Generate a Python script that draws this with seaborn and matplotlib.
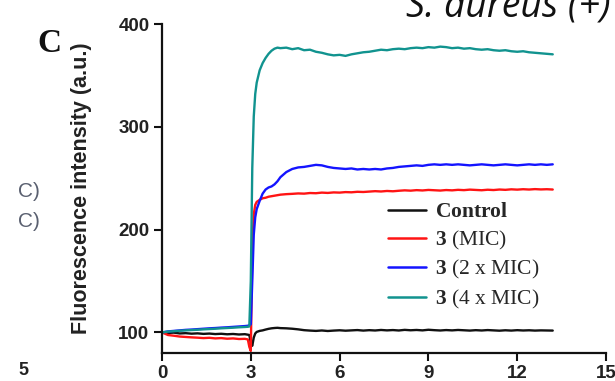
import matplotlib
matplotlib.use("Agg")
import matplotlib.pyplot as plt
import seaborn as sns
import pandas as pd

# Time axis (min)
time_min = [0.0, 0.2, 0.4, 0.6, 0.8, 1.0, 1.2, 1.4, 1.6, 1.8, 2.0, 2.2, 2.4, 2.6, 2.8,
            2.9, 2.95, 3.0, 3.05, 3.1, 3.15, 3.2,
            3.3, 3.4, 3.5, 3.6, 3.7, 3.8, 3.9, 4.0,
            4.2, 4.4, 4.6, 4.8, 5.0, 5.2, 5.4, 5.6, 5.8, 6.0, 6.2, 6.4, 6.6, 6.8,
            7.0, 7.2, 7.4, 7.6, 7.8, 8.0, 8.2, 8.4, 8.6, 8.8, 9.0, 9.2, 9.4, 9.6,
            9.8, 10.0, 10.2, 10.4, 10.6, 10.8, 11.0, 11.2, 11.4, 11.6, 11.8, 12.0,
            12.2, 12.4, 12.6, 12.8, 13.0, 13.2]

control = [100, 99.5, 99.8, 99, 99.3, 98.8, 99.1, 98.6, 98.9, 98.4, 98.7, 98.2, 98.5, 98.0, 98.3,
           97.8, 97.5, 90, 87, 95, 99, 100.5,
           101.5, 102, 102.8, 103.5, 104, 104.3, 104.5, 104.2,
           104, 103.6, 103, 102.2, 101.8, 101.5, 101.9, 101.4, 101.8, 102.1,
           101.7, 102.0, 102.3, 101.8, 102.2, 101.9, 102.4, 102.0, 102.3, 101.9,
           102.5, 102.1, 102.4, 102.0, 102.6, 102.2, 101.9, 102.3, 102.0, 102.4,
           102.1, 101.8, 102.2, 101.9, 102.3, 102.0, 101.7, 102.1, 101.8, 102.2,
           101.9, 102.1, 101.8, 102.0, 101.9, 101.8]

mic_1x = [100, 97.5, 96.8, 96, 95.6, 95.2, 94.9, 94.5, 94.8, 94.2, 94.5, 93.9, 94.2, 93.6, 93.8,
          93.2, 86, 82, 180, 215, 224, 227,
          229, 230.5, 231, 232, 232.5, 233, 233.5, 234,
          234.5, 234.8, 235.2, 235.0, 235.6, 235.4, 236.0, 235.7, 236.2, 236.0,
          236.5, 236.3, 236.8, 236.6, 237.0, 237.4, 237.1, 237.6, 237.3, 237.8,
          238.2, 237.9, 238.4, 238.1, 238.6, 238.3, 238.0, 238.5, 238.2, 238.7,
          238.4, 238.9, 238.6, 238.3, 238.8, 238.5, 239.0, 238.7, 239.2, 238.9,
          239.3, 239.0, 239.4, 239.1, 239.3, 239.0]

mic_2x = [100, 101, 101.5, 102, 102.5, 102.8, 103.2, 103.6, 104, 104.3, 104.7, 105, 105.4, 105.8, 106.2,
          106.5, 107, 108, 150, 195, 212, 220,
          228, 235, 239, 241, 242, 244, 247, 251,
          256, 259, 260.5, 261, 262, 263, 262.5, 261, 260, 259.5,
          259, 259.5, 258.5, 259, 258.5, 259, 258.5, 259.5, 260, 261,
          261.5, 262, 262.5, 262, 263, 263.5, 263, 263.5, 263, 263.5,
          263, 262.5, 263, 263.5, 263, 262.5, 263, 263.5, 263, 262.5,
          263, 263.5, 263, 263.5, 263, 263.5]

mic_4x = [100, 100.8, 101.2, 101.6, 102, 102.3, 102.6, 103, 103.3, 103.6, 104, 104.3, 104.6, 105, 105.3,
          105.5, 105.8, 150, 260, 310, 332, 343,
          355, 362, 367, 371, 374, 376, 377, 376.5,
          377, 375.5, 376.5, 374.5, 375, 373, 372, 370.5, 369.5, 370,
          369, 370.5, 371.5, 372.5, 373, 374, 375, 374.5, 375.5, 376,
          375.5, 376.5, 377, 376.5, 377.5, 377, 378, 377.5, 376.5, 377,
          376, 376.5, 375.5, 375, 375.5, 374.5, 374, 374.5, 373.5, 373,
          373.5, 372.5, 372, 371.5, 371, 370.5]

series_labels = [r"$\mathbf{Control}$", r"$\mathbf{3}$ (MIC)",
                 r"$\mathbf{3}$ (2 x MIC)", r"$\mathbf{3}$ (4 x MIC)"]
series_colors = ["#111111", "#ff1414", "#1414ff", "#11938f"]

x_ticks = [0, 3, 6, 9, 12, 15]
y_ticks = [100, 200, 300, 400]
y_tick_labels = ["100", "200", "300", "400"]

sns.set_style("ticks")
plt.rcParams["font.family"] = ["Liberation Sans", "DejaVu Sans"]
plt.rcParams["mathtext.fontset"] = "custom"
plt.rcParams["mathtext.rm"] = "Liberation Serif"
plt.rcParams["mathtext.bf"] = "Liberation Serif:bold"

frames = []
for lab, vals in zip(series_labels, [control, mic_1x, mic_2x, mic_4x]):
    frames.append(pd.DataFrame({"time": time_min, "intensity": vals, "series": lab}))
df = pd.concat(frames, ignore_index=True)

fig = plt.figure(figsize=(6.15, 3.81), dpi=100)
ax = fig.add_axes([0.2634, 0.0735, 0.7220, 0.8635])

sns.lineplot(data=df, x="time", y="intensity", hue="series",
             hue_order=series_labels, palette=dict(zip(series_labels, series_colors)),
             estimator=None, sort=False, linewidth=1.7, ax=ax)

ax.set_xlim(0, 15)
ax.set_ylim(80, 400)
ax.set_xticks(x_ticks)
ax.set_yticks(y_ticks)
ax.set_yticklabels(y_tick_labels)
ax.set_xlabel("")
ax.set_ylabel("Fluorescence intensity (a.u.)", fontsize=15.5, fontweight="bold",
              color="#222222")
ax.yaxis.set_label_coords(-0.158, 0.50)

for side in ["top", "right"]:
    ax.spines[side].set_visible(False)
for side in ["left", "bottom"]:
    ax.spines[side].set_linewidth(1.6)
    ax.spines[side].set_color("#111111")
ax.tick_params(direction="out", length=6, width=1.5, labelsize=13.5,
               colors="#111111", labelcolor="#222222")
ax.tick_params(axis="x", pad=3)
ax.tick_params(axis="y", pad=3)
for lbl in ax.get_xticklabels() + ax.get_yticklabels():
    lbl.set_fontweight("bold")

handles, labels = ax.get_legend_handles_labels()
leg = ax.legend(handles, labels, loc="center left", bbox_to_anchor=(0.484, 0.293),
                frameon=False, borderpad=0, handlelength=1.8, handletextpad=0.4,
                labelspacing=0.31, prop={"family": "Liberation Serif", "size": 15.5})
for line in leg.get_lines():
    line.set_linewidth(1.8)

# Panel letter and neighbouring labels
fig.text(37 / 615, 1 - 52 / 381, "C", fontsize=24, fontweight="bold",
         family="Liberation Serif", va="baseline", ha="left", color="#111111")
fig.text(611 / 615, 1 - 17 / 381, "S. aureus (+)", fontsize=27, style="italic",
         family="Open Sans", va="baseline", ha="right", color="#111111")
fig.text(18 / 615, 1 - 197 / 381, "C)", fontsize=15, family="Liberation Sans",
         va="baseline", ha="left", color="#5a6070")
fig.text(18 / 615, 1 - 227 / 381, "C)", fontsize=15, family="Liberation Sans",
         va="baseline", ha="left", color="#5a6070")
fig.text(18 / 615, 1 - 375 / 381, "5", fontsize=13, fontweight="bold",
         va="baseline", ha="left", color="#222222")

fig.savefig("out.png", dpi=100)
